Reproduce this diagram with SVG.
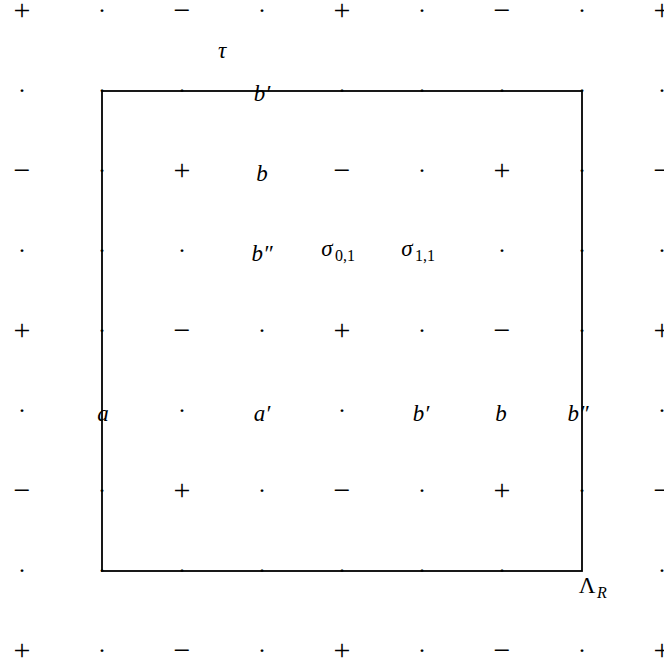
<svg xmlns="http://www.w3.org/2000/svg" width="664" height="668" viewBox="0 0 664 668">
<style>
.s{font-family:"Liberation Serif",serif;font-size:30px;text-anchor:middle;fill:#000}
.d{font-family:"Liberation Serif",serif;font-size:24px;text-anchor:middle;fill:#000}
.m{font-family:"Liberation Serif",serif;font-size:23px;font-style:italic;text-anchor:middle;fill:#000}
.L{font-family:"Liberation Serif",serif;font-size:23px;text-anchor:middle;fill:#000}
.sub{font-family:"Liberation Serif",serif;font-size:16px;fill:#000}
.subi{font-family:"Liberation Serif",serif;font-size:16px;font-style:italic;fill:#000}
</style>
<rect x="0" y="0" width="664" height="668" fill="#fff"/>
<g id="square">
<rect x="102" y="91" width="480" height="480" fill="none" stroke="#000" stroke-width="1.8"/>
</g>
<g id="signs" class="s">
<text x="22" y="20">+</text><text x="182" y="20">−</text><text x="342" y="20">+</text><text x="502" y="20">−</text><text x="662" y="20">+</text>
<text x="22" y="180">−</text><text x="182" y="180">+</text><text x="342" y="180">−</text><text x="502" y="180">+</text><text x="662" y="180">−</text>
<text x="22" y="340">+</text><text x="182" y="340">−</text><text x="342" y="340">+</text><text x="502" y="340">−</text><text x="662" y="340">+</text>
<text x="22" y="500">−</text><text x="182" y="500">+</text><text x="342" y="500">−</text><text x="502" y="500">+</text><text x="662" y="500">−</text>
<text x="22" y="660">+</text><text x="182" y="660">−</text><text x="342" y="660">+</text><text x="502" y="660">−</text><text x="662" y="660">+</text>
</g>
<g id="dots" class="d">
<text x="102" y="18">·</text><text x="262" y="18">·</text><text x="422" y="18">·</text><text x="582" y="18">·</text>
<text x="22" y="98">·</text><text x="102" y="98">·</text><text x="182" y="98">·</text><text x="342" y="98">·</text><text x="422" y="98">·</text><text x="502" y="98">·</text><text x="582" y="98">·</text><text x="662" y="98">·</text>
<text x="102" y="178">·</text><text x="422" y="178">·</text><text x="582" y="178">·</text>
<text x="22" y="258">·</text><text x="102" y="258">·</text><text x="182" y="258">·</text><text x="502" y="258">·</text><text x="582" y="258">·</text><text x="662" y="258">·</text>
<text x="102" y="338">·</text><text x="262" y="338">·</text><text x="422" y="338">·</text><text x="582" y="338">·</text>
<text x="22" y="418">·</text><text x="182" y="418">·</text><text x="342" y="418">·</text><text x="662" y="418">·</text>
<text x="102" y="498">·</text><text x="262" y="498">·</text><text x="422" y="498">·</text><text x="582" y="498">·</text>
<text x="22" y="578">·</text><text x="102" y="578">·</text><text x="182" y="578">·</text><text x="262" y="578">·</text><text x="342" y="578">·</text><text x="422" y="578">·</text><text x="502" y="578">·</text><text x="662" y="578">·</text>
<text x="102" y="658">·</text><text x="262" y="658">·</text><text x="422" y="658">·</text><text x="582" y="658">·</text>
</g>
<g id="labels" class="m">
<text x="222" y="58">τ</text>
<text x="262" y="101">b′</text>
<text x="262" y="181">b</text>
<text x="262" y="261">b″</text>
<text x="103" y="421">a</text>
<text x="262" y="421">a′</text>
<text x="421" y="421">b′</text>
<text x="501" y="421">b</text>
<text x="578" y="421">b″</text>
</g>
<g id="sigma01"><text class="m" x="327" y="256">σ</text><text class="sub" x="335" y="261">0,1</text></g>
<g id="sigma11"><text class="m" x="407" y="256">σ</text><text class="sub" x="415" y="261">1,1</text></g>
<g id="lambdaR"><text class="L" x="587" y="593">Λ</text><text class="subi" x="597" y="598">R</text></g>
</svg>
